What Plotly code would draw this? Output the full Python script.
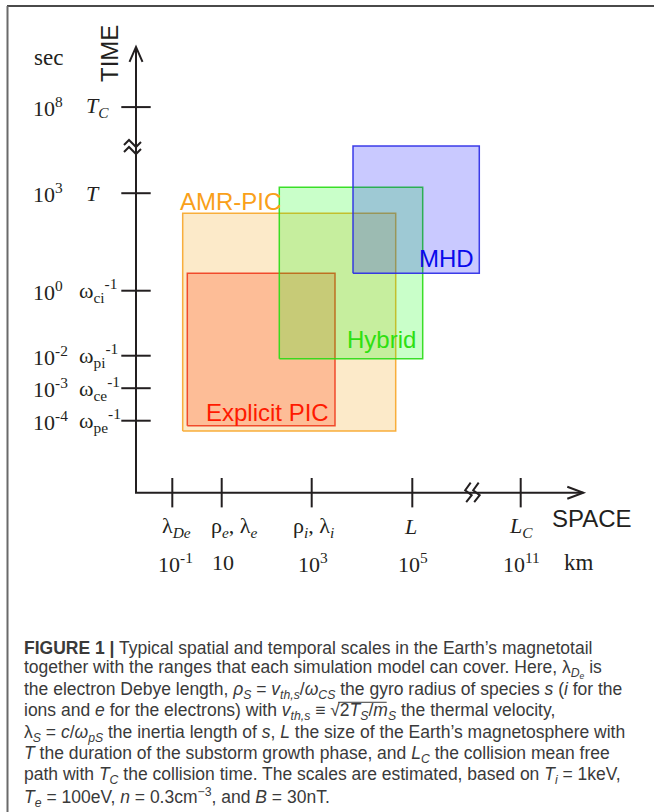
import plotly.graph_objects as go

W, H = 654, 812

# ---------------- data (schematic coordinates) ----------------
# x: schematic "space" position units; y: log10(seconds), compressed above the break
x_tick_pos = [3.63, 8.57, 17.57, 27.63, 38.47]
x_tick_values = ["10<sup>-1</sup>", "10", "10<sup>3</sup>", "10<sup>5</sup>", "10<sup>11</sup>"]
x_tick_symbols = ["λ<sub><i>De</i></sub>",
                  "ρ<sub><i>e</i></sub>, λ<sub><i>e</i></sub>",
                  "ρ<sub><i>i</i></sub>, λ<sub><i>i</i></sub>",
                  "<i>L</i>",
                  "<i>L<sub>C</sub></i>"]
x_axis_end = 44.73
x_break = 33.57

y_tick_pos = [5.65, 3.0, 0.0, -2.0, -3.0, -4.0]
y_tick_values = ["10<sup>8</sup>", "10<sup>3</sup>", "10<sup>0</sup>",
                 "10<sup>-2</sup>", "10<sup>-3</sup>", "10<sup>-4</sup>"]
y_tick_symbols = ["<i>T<sub>C</sub></i>", "<i>T</i>",
                  "ω<sub>ci</sub><sup>-1</sup>", "ω<sub>pi</sub><sup>-1</sup>",
                  "ω<sub>ce</sub><sup>-1</sup>", "ω<sub>pe</sub><sup>-1</sup>"]
y_axis_end = 7.5
y_origin = -6.215
y_break = 4.375

models = ["AMR-PIC", "Explicit PIC", "Hybrid", "MHD"]
model_x0 = [4.67, 5.13, 14.33, 21.70]
model_x1 = [25.97, 19.90, 28.67, 34.33]
model_y0 = [-4.317, -4.157, -2.09, 0.535]
model_y1 = [2.38, 0.535, 3.18, 4.45]

caption_lines = [
    "<b>FIGURE 1 |</b> Typical spatial and temporal scales in the Earth’s magnetotail",
    "together with the ranges that each simulation model can cover. Here, λ<sub><i>D<sub>e</sub></i></sub> is",
    "the electron Debye length, <i>ρ<sub>S</sub></i> = <i>v<sub>th,s</sub></i>/<i>ω<sub>CS</sub></i> the gyro radius of species <i>s</i> (<i>i</i> for the",
    "ions and <i>e</i> for the electrons) with <i>v<sub>th,s</sub></i> ≡ √2<i>T<sub>S</sub></i>/<i>m<sub>S</sub></i> the thermal velocity,",
    "λ<sub><i>S</i></sub> = <i>c</i>/<i>ω<sub>pS</sub></i> the inertia length of <i>s</i>, <i>L</i> the size of the Earth’s magnetosphere with",
    "<i>T</i> the duration of the substorm growth phase, and <i>L<sub>C</sub></i> the collision mean free",
    "path with <i>T<sub>C</sub></i> the collision time. The scales are estimated, based on <i>T<sub>i</sub></i> = 1keV,",
    "<i>T<sub>e</sub></i> = 100eV, <i>n</i> = 0.3cm<sup>−3</sup>, and <i>B</i> = 30nT.",
]

# ---------------- style ----------------
SERIF = "Liberation Serif, Times New Roman, serif"
SANS = "Liberation Sans, Arial, sans-serif"
INK = "#231f20"
CAP_SIZE = 17.5
CAP_TOP = 648
CAP_STEP = 21.3
CAP_LEFT = 22
model_line = ["rgba(248,170,50,0.95)", "rgba(240,60,30,0.9)", "rgba(40,220,20,0.9)", "rgba(40,40,230,0.9)"]
model_fill = ["rgba(245,170,40,0.25)", "rgba(255,70,20,0.27)", "rgba(0,255,0,0.21)", "rgba(0,0,255,0.21)"]
model_text = ["#f9a01a", "#ff1a00", "#2ee010", "#0a0aeb"]
# label anchoring: (corner x, xanchor, xshift, corner y, yshift)
model_label = [("x0", "left", -5, "y1", 12),
               ("x1", "right", -4, "y0", 13),
               ("x1", "right", -5, "y0", 19),
               ("x1", "right", -3, "y0", 15)]

XR = [-13.6, 51.8]
YR = [-16.04, 8.945]
PXX = W / (XR[1] - XR[0])  # pixels per x unit
PXY = H / (YR[1] - YR[0])  # pixels per y unit


def dx(px):
    return px / PXX


def dy(px):  # px measured downward on screen
    return -px / PXY


fig = go.Figure()

# model ranges
for i, m in enumerate(models):
    fig.add_trace(go.Scatter(
        x=[model_x0[i], model_x1[i], model_x1[i], model_x0[i], model_x0[i]],
        y=[model_y0[i], model_y0[i], model_y1[i], model_y1[i], model_y0[i]],
        mode="lines", fill="toself", fillcolor=model_fill[i],
        line=dict(color=model_line[i], width=1.5), hoverinfo="skip", showlegend=False))

# axes
fig.add_trace(go.Scatter(x=[0, 0, x_axis_end], y=[y_axis_end, y_origin, y_origin],
                         mode="lines", line=dict(color=INK, width=2), showlegend=False, hoverinfo="skip"))
fig.add_trace(go.Scatter(x=[0] * len(y_tick_pos), y=y_tick_pos, mode="markers",
                         marker=dict(symbol="line-ew", size=21, line=dict(color=INK, width=2)),
                         showlegend=False, hoverinfo="skip"))
fig.add_trace(go.Scatter(x=x_tick_pos, y=[y_origin] * len(x_tick_pos), mode="markers",
                         marker=dict(symbol="line-ns", size=21, line=dict(color=INK, width=2)),
                         showlegend=False, hoverinfo="skip"))

shapes = []


def path_from(points):
    return "M " + " L ".join(f"{px},{py}" for px, py in points)


# arrow heads (open chevrons)
shapes.append(dict(type="path", xref="x", yref="y",
                   path=path_from([(dx(-6.5), y_axis_end + dy(15)), (0, y_axis_end), (dx(6.5), y_axis_end + dy(15))]),
                   line=dict(color=INK, width=2)))
shapes.append(dict(type="path", xref="x", yref="y",
                   path=path_from([(x_axis_end + dx(-16), y_origin + dy(-6)), (x_axis_end, y_origin),
                                   (x_axis_end + dx(-16), y_origin + dy(6))]),
                   line=dict(color=INK, width=2)))
# break marks
for off in (-4.5, 2.5):
    pts = [(dx(-12), y_break + dy(off + 1)), (dx(-7), y_break + dy(off - 4)),
           (dx(0), y_break + dy(off + 3)), (dx(5), y_break + dy(off - 2))]
    shapes.append(dict(type="path", xref="x", yref="y", path=path_from(pts), line=dict(color=INK, width=2)))
for off in (0, 8):
    pts = [(x_break + dx(off - 1), y_origin + dy(-10)), (x_break + dx(off - 6.5), y_origin + dy(-2.5)),
           (x_break + dx(off), y_origin + dy(2.5)), (x_break + dx(off - 5.5), y_origin + dy(9.5))]
    shapes.append(dict(type="path", xref="x", yref="y", path=path_from(pts), line=dict(color=INK, width=2)))

# figure frame
shapes.append(dict(type="line", xref="paper", yref="paper", x0=7 / W, x1=1, y0=1 - 6 / H, y1=1 - 6 / H,
                   line=dict(color="#4a4a4a", width=2)))
shapes.append(dict(type="line", xref="paper", yref="paper", x0=7.5 / W, x1=7.5 / W, y0=0, y1=1 - 6 / H,
                   line=dict(color="#6a6a6a", width=2)))

# radical bar over 2T_S/m_S in caption line 4 (estimated text metrics)
sc = CAP_SIZE / 15.5
bar_y = CAP_TOP + 3 * CAP_STEP - 0.55 * CAP_SIZE
shapes.append(dict(type="line", xref="paper", yref="paper",
                   x0=(CAP_LEFT + 280 * sc) / W, x1=(CAP_LEFT + 323 * sc) / W,
                   y0=1 - bar_y / H, y1=1 - bar_y / H, line=dict(color="#3a3a3a", width=1)))

ann = []
# y tick labels
for yp, v, s in zip(y_tick_pos, y_tick_values, y_tick_symbols):
    ann.append(dict(x=0, y=yp, xref="x", yref="y", text=v, showarrow=False, xanchor="left",
                    xshift=-105, font=dict(family=SERIF, size=22, color=INK)))
    ann.append(dict(x=0, y=yp, xref="x", yref="y", text=s, showarrow=False, xanchor="left",
                    xshift=-52 if s.startswith("<i>T") else -59, font=dict(family=SERIF, size=22, color=INK)))
# x tick labels
sym_dx = [4, 13, 2, -2, 0]
val_dx = [3, 1, 1, 1, 1]
for xp, v, s, a, b in zip(x_tick_pos, x_tick_values, x_tick_symbols, sym_dx, val_dx):
    ann.append(dict(x=xp, y=y_origin, xref="x", yref="y", text=s, showarrow=False, xanchor="center",
                    xshift=a, yshift=-34, font=dict(family=SERIF, size=22, color=INK)))
    ann.append(dict(x=xp, y=y_origin, xref="x", yref="y", text=v, showarrow=False, xanchor="center",
                    xshift=b, yshift=-70, font=dict(family=SERIF, size=22, color=INK)))
# axis names / units
ann.append(dict(x=x_axis_end, y=y_origin, xref="x", yref="y", text="SPACE", showarrow=False,
                xanchor="left", xshift=-33, yshift=-26, font=dict(family=SANS, size=24, color=INK)))
ann.append(dict(x=x_tick_pos[-1], y=y_origin, xref="x", yref="y", text="km", showarrow=False,
                xanchor="left", xshift=41, yshift=-70, font=dict(family=SERIF, size=23, color=INK)))
ann.append(dict(x=0, y=y_axis_end, xref="x", yref="y", text="TIME", showarrow=False, textangle=-90,
                xanchor="center", xshift=-26, yshift=-7, font=dict(family=SANS, size=24, color=INK)))
ann.append(dict(x=0, y=y_axis_end, xref="x", yref="y", text="sec", showarrow=False,
                xanchor="center", xshift=-88, yshift=-11, font=dict(family=SERIF, size=23, color=INK)))

# model labels
for i, m in enumerate(models):
    cx, xa, xs, cy, ys = model_label[i]
    ann.append(dict(x=model_x0[i] if cx == "x0" else model_x1[i],
                    y=model_y1[i] if cy == "y1" else model_y0[i],
                    xref="x", yref="y", text=m, showarrow=False, xanchor=xa, yanchor="middle",
                    xshift=xs, yshift=ys, font=dict(family=SANS, size=24, color=model_text[i])))

# caption
for k, line in enumerate(caption_lines):
    ann.append(dict(x=CAP_LEFT / W, y=1 - (CAP_TOP + CAP_STEP * k) / H, xref="paper", yref="paper", text=line,
                    showarrow=False, xanchor="left", yanchor="middle", align="left",
                    font=dict(family=SANS, size=CAP_SIZE, color="#3a3a3a")))

fig.update_layout(
    width=W, height=H, margin=dict(l=0, r=0, t=0, b=0, pad=0),
    paper_bgcolor="white", plot_bgcolor="white",
    xaxis=dict(range=XR, visible=False, fixedrange=True),
    yaxis=dict(range=YR, visible=False, fixedrange=True),
    shapes=shapes, annotations=ann, showlegend=False,
)

fig.write_html("out.html", config={"displayModeBar": False, "responsive": False},
               post_script="document.body.style.margin='0';document.body.style.overflow='hidden';")
